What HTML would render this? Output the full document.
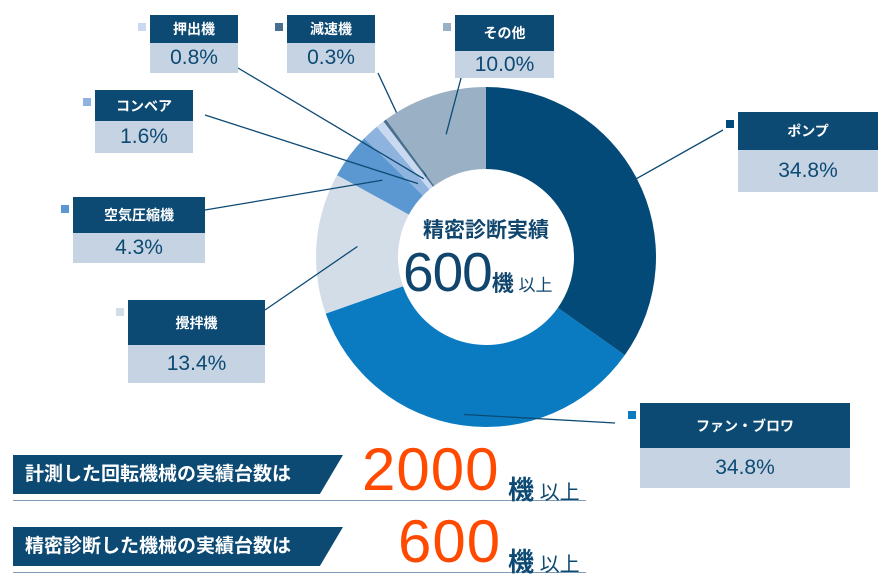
<!DOCTYPE html>
<html><head><meta charset="utf-8"><style>
body{margin:0;width:884px;height:581px;background:#fff;position:relative;overflow:hidden;font-family:"Liberation Sans","Noto Sans CJK JP",sans-serif}
.lb{position:absolute}
.lb .h{background:#0c4a74;color:#fff;text-align:center;font-size:14px;font-weight:bold;display:flex;align-items:center;justify-content:center}
.lb .v{background:#c6d3e2;color:#0c4a74;text-align:center;font-size:21px;display:flex;align-items:center;justify-content:center}
.sq{position:absolute;width:8px;height:8px}
.banner{position:absolute;left:13px;height:39px;width:330px;background:#0c4a74;clip-path:polygon(0 0,100% 0,93% 100%,0 100%);color:#fff;font-weight:bold;font-size:19px;line-height:39px;padding-left:12px;box-sizing:border-box}
.rule{position:absolute;left:13px;width:573px;height:1px;background:#7f9bb5}
.big{position:absolute;color:#ff4a00;font-size:60px;line-height:60px;letter-spacing:1px}
.unit{position:absolute;color:#0c4a74;font-weight:bold}
</style></head><body>
<svg id="chart" width="884" height="581" style="position:absolute;left:0;top:0"></svg>

<div class="banner" style="top:455px">計測した回転機械の実績台数は</div>
<div class="rule" style="top:500px"></div>
<div class="big" style="left:362px;top:440px">2000</div>
<div class="unit" style="left:508px;top:470px;font-size:26px">機<span style="font-size:20px;font-weight:normal"> 以上</span></div>

<div class="banner" style="top:527px">精密診断した機械の実績台数は</div>
<div class="rule" style="top:572px"></div>
<div class="big" style="left:398px;top:512px">600</div>
<div class="unit" style="left:508px;top:542px;font-size:26px">機<span style="font-size:20px;font-weight:normal"> 以上</span></div>

<div style="position:absolute;left:400px;top:214px;width:172px;text-align:center;color:#10466e;font-weight:bold;font-size:21px">精密診断実績</div>
<div style="position:absolute;left:403px;top:242px;color:#10466e;font-size:55px;line-height:60px;letter-spacing:-1px">600<span style="font-size:22px;font-weight:bold;letter-spacing:0">機</span><span style="font-size:17px;letter-spacing:0"> 以上</span></div>

<script>
const categories=["ポンプ","ファン・ブロワ","攪拌機","空気圧縮機","コンベア","押出機","減速機","その他"];
const values=[34.8,34.8,13.4,4.3,1.6,0.8,0.3,10.0];
const labels=["34.8%","34.8%","13.4%","4.3%","1.6%","0.8%","0.3%","10.0%"];
const colors=["#034a78","#0a7bc1","#d3dde8","#5b97d0","#8fb3df","#c9d9ef","#4a7090","#9ab0c4"];
const boxes=[[738,112,140,38,42,723,130],[640,403,210,45,40,615,423],[128,300,137,45,38,265,310],[73,197,132,36,30,205,210],[95,90,98,31,32,205,115],[150,15,88,28,30,238,68],[287,15,88,28,30,378,73],[455,15,99,36,27,465,63]];
const cx=486,cy=257,R=170,r=88;
const svg=document.getElementById('chart');
const NS='http://www.w3.org/2000/svg';
function pt(a,rad){const t=a*Math.PI/180;return [cx+rad*Math.sin(t),cy-rad*Math.cos(t)];}
const total=values.reduce((a,b)=>a+b,0);
let acc=0;
values.forEach((v,i)=>{
  const a0=acc/total*360,a1=(acc+v)/total*360;acc+=v;
  const p0=pt(a0,R),p1=pt(a1,R),q1=pt(a1,r),q0=pt(a0,r);
  const large=(a1-a0)>180?1:0;
  const p=document.createElementNS(NS,'path');
  p.setAttribute('d',`M${p0} A${R},${R} 0 ${large} 1 ${p1} L${q1} A${r},${r} 0 ${large} 0 ${q0} Z`);
  p.setAttribute('fill',colors[i]);
  
  
  svg.appendChild(p);
  const mid=(a0+a1)/2;
  const m=pt(mid,(v<2)?r+12:(R+r)/2+ (i<2?30:0));
  const b=boxes[i];
  const l=document.createElementNS(NS,'line');
  l.setAttribute('x1',m[0]);l.setAttribute('y1',m[1]);l.setAttribute('x2',b[5]);l.setAttribute('y2',b[6]);
  l.setAttribute('stroke','#0c4a74');l.setAttribute('stroke-width','1.3');
  
  
  svg.appendChild(l);
  const d=document.createElement('div');d.className='lb';
  d.style.left=b[0]+'px';d.style.top=b[1]+'px';d.style.width=b[2]+'px';
  d.innerHTML=`<div class="h" style="height:${b[3]}px">${categories[i]}</div><div class="v" style="height:${b[4]}px">${labels[i]}</div>`;
  
  
  document.body.appendChild(d);
  const s=document.createElement('div');s.className='sq';
  s.style.left=(b[0]-12)+'px';s.style.top=(b[1]+8)+'px';s.style.background=colors[i];
  
  
  document.body.appendChild(s);
});
</script>
</body></html>
